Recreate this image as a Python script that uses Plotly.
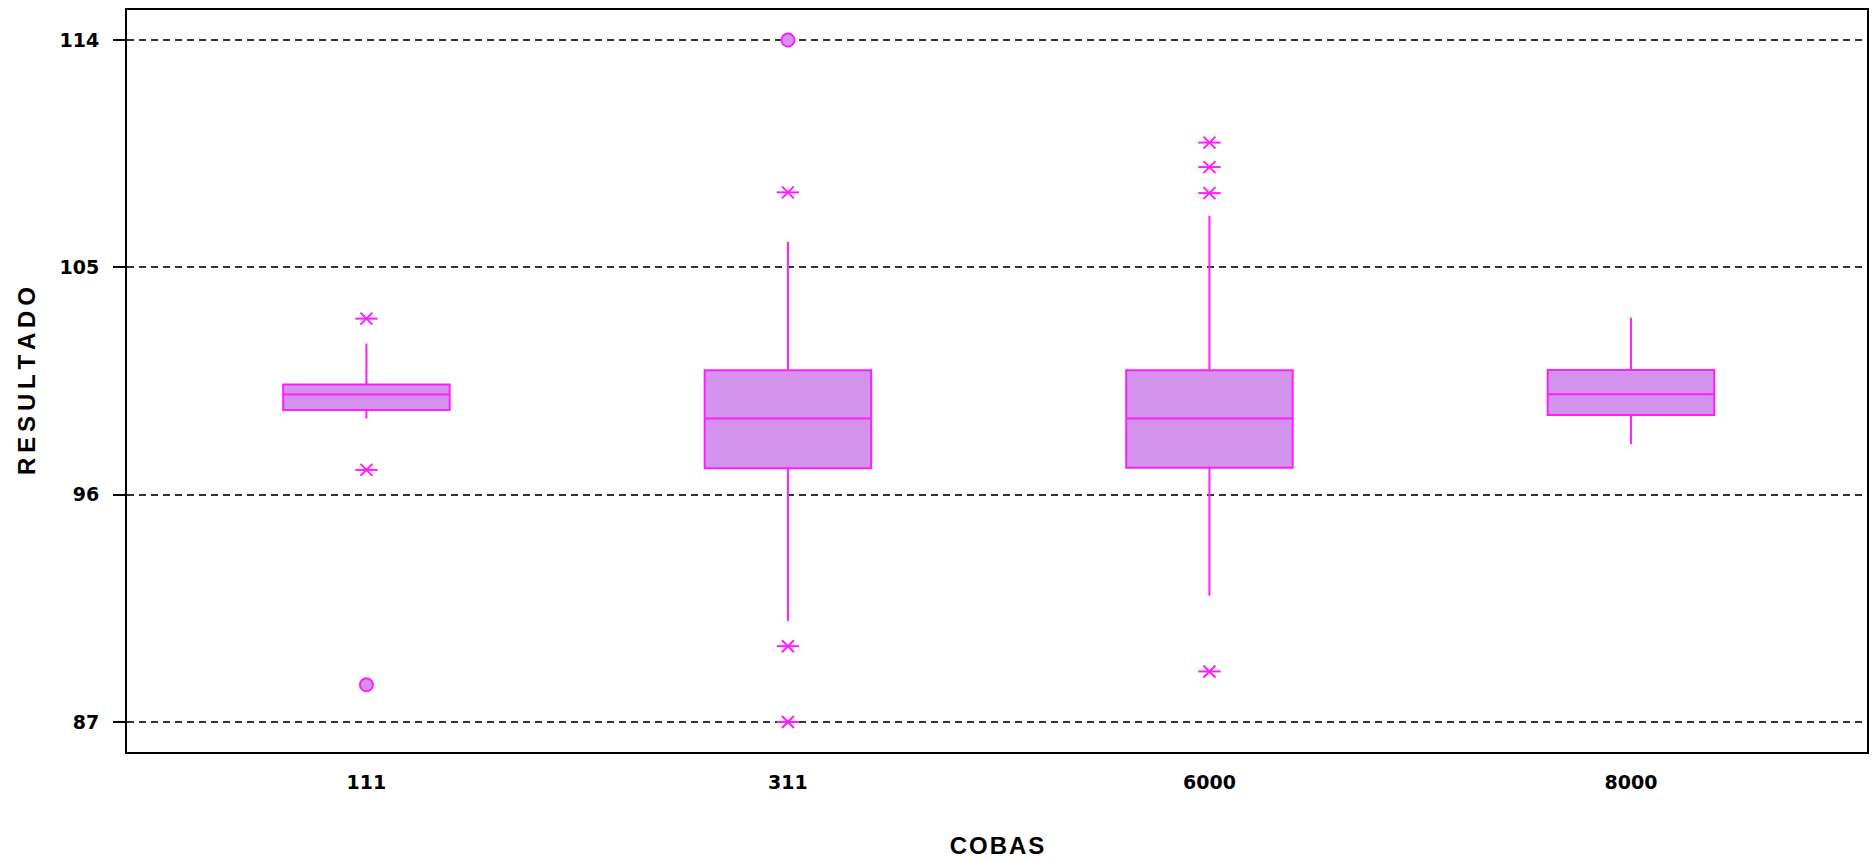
import plotly.graph_objects as go

# Box statistics per COBAS analyser
cobas = ["111", "311", "6000", "8000"]
q1 = [99.35, 97.05, 97.07, 99.15]
median = [99.97, 99.02, 99.02, 99.98]
q3 = [100.36, 100.93, 100.93, 100.94]
lower_whisker = [99.02, 91.0, 92.0, 98.0]
upper_whisker = [101.98, 106.0, 107.04, 103.0]

# Outliers drawn as asterisks
star_x = ["111", "111", "311", "311", "311", "6000", "6000", "6000", "6000"]
star_y = [102.97, 96.98, 107.97, 90.0, 87.0, 109.94, 108.97, 107.94, 89.0]

# Extreme outliers drawn as filled circles
circle_x = ["111", "311"]
circle_y = [88.47, 114.0]

y_ticks = [87, 96, 105, 114]

MAGENTA = "#FF1EFF"
FILL = "#D392EC"
TICK_FONT = "DejaVu Sans"
TITLE_FONT = "Liberation Sans"

THIN = "\u2009"
HAIR = "\u200a"

fig = go.Figure()

fig.add_trace(go.Box(
    x=cobas,
    q1=q1,
    median=median,
    q3=q3,
    lowerfence=lower_whisker,
    upperfence=upper_whisker,
    boxpoints=False,
    width=0.395,
    whiskerwidth=0,
    fillcolor=FILL,
    line=dict(color=MAGENTA, width=2),
    hoverinfo="skip",
    showlegend=False,
))

# asterisk = horizontal bar overlaid with a thin x
fig.add_trace(go.Scatter(
    x=star_x, y=star_y, mode="markers",
    marker=dict(symbol="x-thin-open", size=12, color=MAGENTA,
                line=dict(color=MAGENTA, width=2)),
    showlegend=False, hoverinfo="skip",
))
fig.add_trace(go.Scatter(
    x=star_x, y=star_y, mode="markers",
    marker=dict(symbol="line-ew-open", size=16, color=MAGENTA,
                line=dict(color=MAGENTA, width=2)),
    showlegend=False, hoverinfo="skip",
))
fig.add_trace(go.Scatter(
    x=circle_x, y=circle_y, mode="markers",
    marker=dict(symbol="circle", size=13, color=FILL,
                line=dict(color=MAGENTA, width=2)),
    showlegend=False, hoverinfo="skip",
))

fig.update_layout(
    width=1872,
    height=859,
    margin=dict(l=127, r=3, t=10, b=106),
    paper_bgcolor="white",
    plot_bgcolor="white",
    font=dict(family=TICK_FONT, color="black"),
    xaxis=dict(
        type="category",
        categoryorder="array",
        categoryarray=cobas,
        range=[-0.568, 3.56],
        showgrid=False,
        zeroline=False,
        showline=True,
        mirror=True,
        linecolor="black",
        linewidth=2,
        ticks="",
        tickfont=dict(family=TICK_FONT, size=19, color="black", weight="bold"),
        ticklabelstandoff=12,
        title=dict(
            text=HAIR.join("COBAS"),
            font=dict(family=TITLE_FONT, size=24, color="black", weight="bold"),
            standoff=46,
        ),
    ),
    yaxis=dict(
        range=[85.81, 115.19],
        tickmode="array",
        tickvals=y_ticks,
        ticktext=[str(v) for v in y_ticks],
        showgrid=True,
        gridcolor="#333333",
        gridwidth=2,
        griddash="7px,5px",
        zeroline=False,
        showline=True,
        mirror=True,
        linecolor="black",
        linewidth=2,
        ticks="outside",
        ticklen=12,
        tickwidth=2,
        tickcolor="black",
        tickfont=dict(family=TICK_FONT, size=19, color="black", weight="bold"),
        ticklabelstandoff=10,
        title=dict(
            text=THIN.join("RESULTADO"),
            font=dict(family=TITLE_FONT, size=24, color="black", weight="bold"),
            standoff=17,
        ),
    ),
)

fig.write_html("out.html")
